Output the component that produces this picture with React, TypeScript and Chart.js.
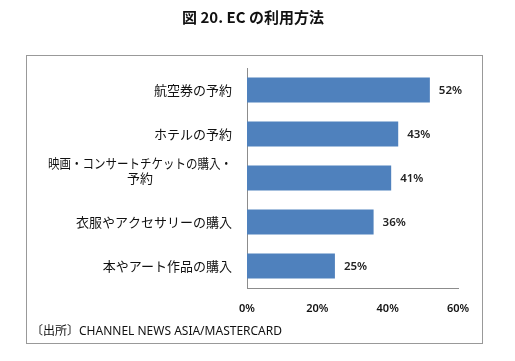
import React, { useEffect, useRef } from "react";
import { Chart, registerables } from "chart.js";

Chart.register(...registerables);

const TITLE = "図 20. EC の利用方法";
const SOURCE = "〔出所〕CHANNEL NEWS ASIA/MASTERCARD";
const categories: string[][] = [
  ["航空券の予約"],
  ["ホテルの予約"],
  ["映画・コンサートチケットの購入・", "予約"],
  ["衣服やアクセサリーの購入"],
  ["本やアート作品の購入"],
];
const values = [52, 43, 41, 36, 25];
const xTicks = [0, 20, 40, 60];

const BAR_COLOR = "#4F81BD";
const AXIS_COLOR = "#8c8c8c";
const CJK = '"Noto Sans CJK JP", "Noto Sans", sans-serif';

const decorPlugin = {
  id: "decor",
  beforeDraw(chart: any) {
    const ctx = chart.ctx;
    ctx.save();
    ctx.fillStyle = "#ffffff";
    ctx.fillRect(0, 0, chart.width, chart.height);
    // outer frame
    ctx.strokeStyle = "#999999";
    ctx.lineWidth = 1;
    ctx.strokeRect(26.5, 55.5, 456, 288);
    // title
    ctx.fillStyle = "#111111";
    ctx.font = `bold 15px ${CJK}`;
    ctx.textAlign = "center";
    ctx.textBaseline = "middle";
    ctx.fillText(TITLE, 253, 17);
    // source
    ctx.font = `12px "Noto Sans", ${CJK}`;
    ctx.textAlign = "left";
    ctx.fillStyle = "#111111";
    ctx.fillText(SOURCE, 31, 332, 252);
    ctx.restore();
  },
  afterDraw(chart: any) {
    const ctx = chart.ctx;
    const yScale = chart.scales.y;
    ctx.save();
    // category labels
    ctx.fillStyle = "#111111";
    ctx.font = `13px ${CJK}`;
    ctx.textBaseline = "middle";
    const rightX = 232;
    categories.forEach((lines, i) => {
      const cy = yScale.getPixelForValue(i);
      if (lines.length === 1) {
        ctx.textAlign = "right";
        ctx.fillText(lines[0], rightX, cy);
      } else {
        const w1 = 184;
        const center = rightX - w1 / 2;
        ctx.textAlign = "center";
        ctx.fillText(lines[0], center, cy - 15, w1);
        ctx.fillText(lines[1], center, cy);
      }
    });
    // value labels
    ctx.font = `600 11.5px "Noto Sans", sans-serif`;
    ctx.fillStyle = "#222222";
    ctx.textAlign = "left";
    const meta = chart.getDatasetMeta(0);
    meta.data.forEach((bar: any, i: number) => {
      ctx.fillText(values[i] + "%", bar.x + 9, bar.y + 1);
    });
    ctx.restore();
  },
};

export default function App() {
  const ref = useRef<HTMLCanvasElement | null>(null);
  useEffect(() => {
    if (!ref.current) return;
    const chart = new Chart(ref.current, {
      type: "bar",
      data: {
        labels: categories.map((c) => c.join("")),
        datasets: [
          {
            data: values,
            backgroundColor: BAR_COLOR,
            borderWidth: 0,
            barPercentage: 0.57,
            categoryPercentage: 1,
          },
        ],
      },
      options: {
        indexAxis: "y",
        responsive: false,
        animation: false,
        devicePixelRatio: 1,
        layout: { padding: { left: 247, right: 57, top: 68, bottom: 33 } },
        plugins: {
          legend: { display: false },
          title: { display: false },
          tooltip: { enabled: false },
        },
        scales: {
          x: {
            min: 0,
            max: 60,
            afterBuildTicks: (scale: any) => {
              scale.ticks = xTicks.map((v) => ({ value: v }));
            },
            afterFit: (scale: any) => {
              scale.height = 40;
            },
            grid: { display: false, drawTicks: false },
            border: { display: true, color: AXIS_COLOR, width: 1 },
            ticks: {
              padding: 14,
              color: "#111111",
              font: { family: '"Noto Sans", sans-serif', size: 11, weight: "600" },
              callback: (v: any) => v + "%",
            },
          },
          y: {
            afterFit: (scale: any) => {
              scale.width = 0;
            },
            grid: { display: false },
            border: { display: true, color: AXIS_COLOR, width: 1 },
            ticks: { display: false },
          },
        },
      },
      plugins: [decorPlugin],
    });
    return () => chart.destroy();
  }, []);
  return (
    <div style={{ position: "fixed", left: 0, top: 0, width: 515, height: 361, background: "#fff" }}>
      <canvas ref={ref} width={515} height={361} style={{ width: 515, height: 361, display: "block" }} />
    </div>
  );
}
